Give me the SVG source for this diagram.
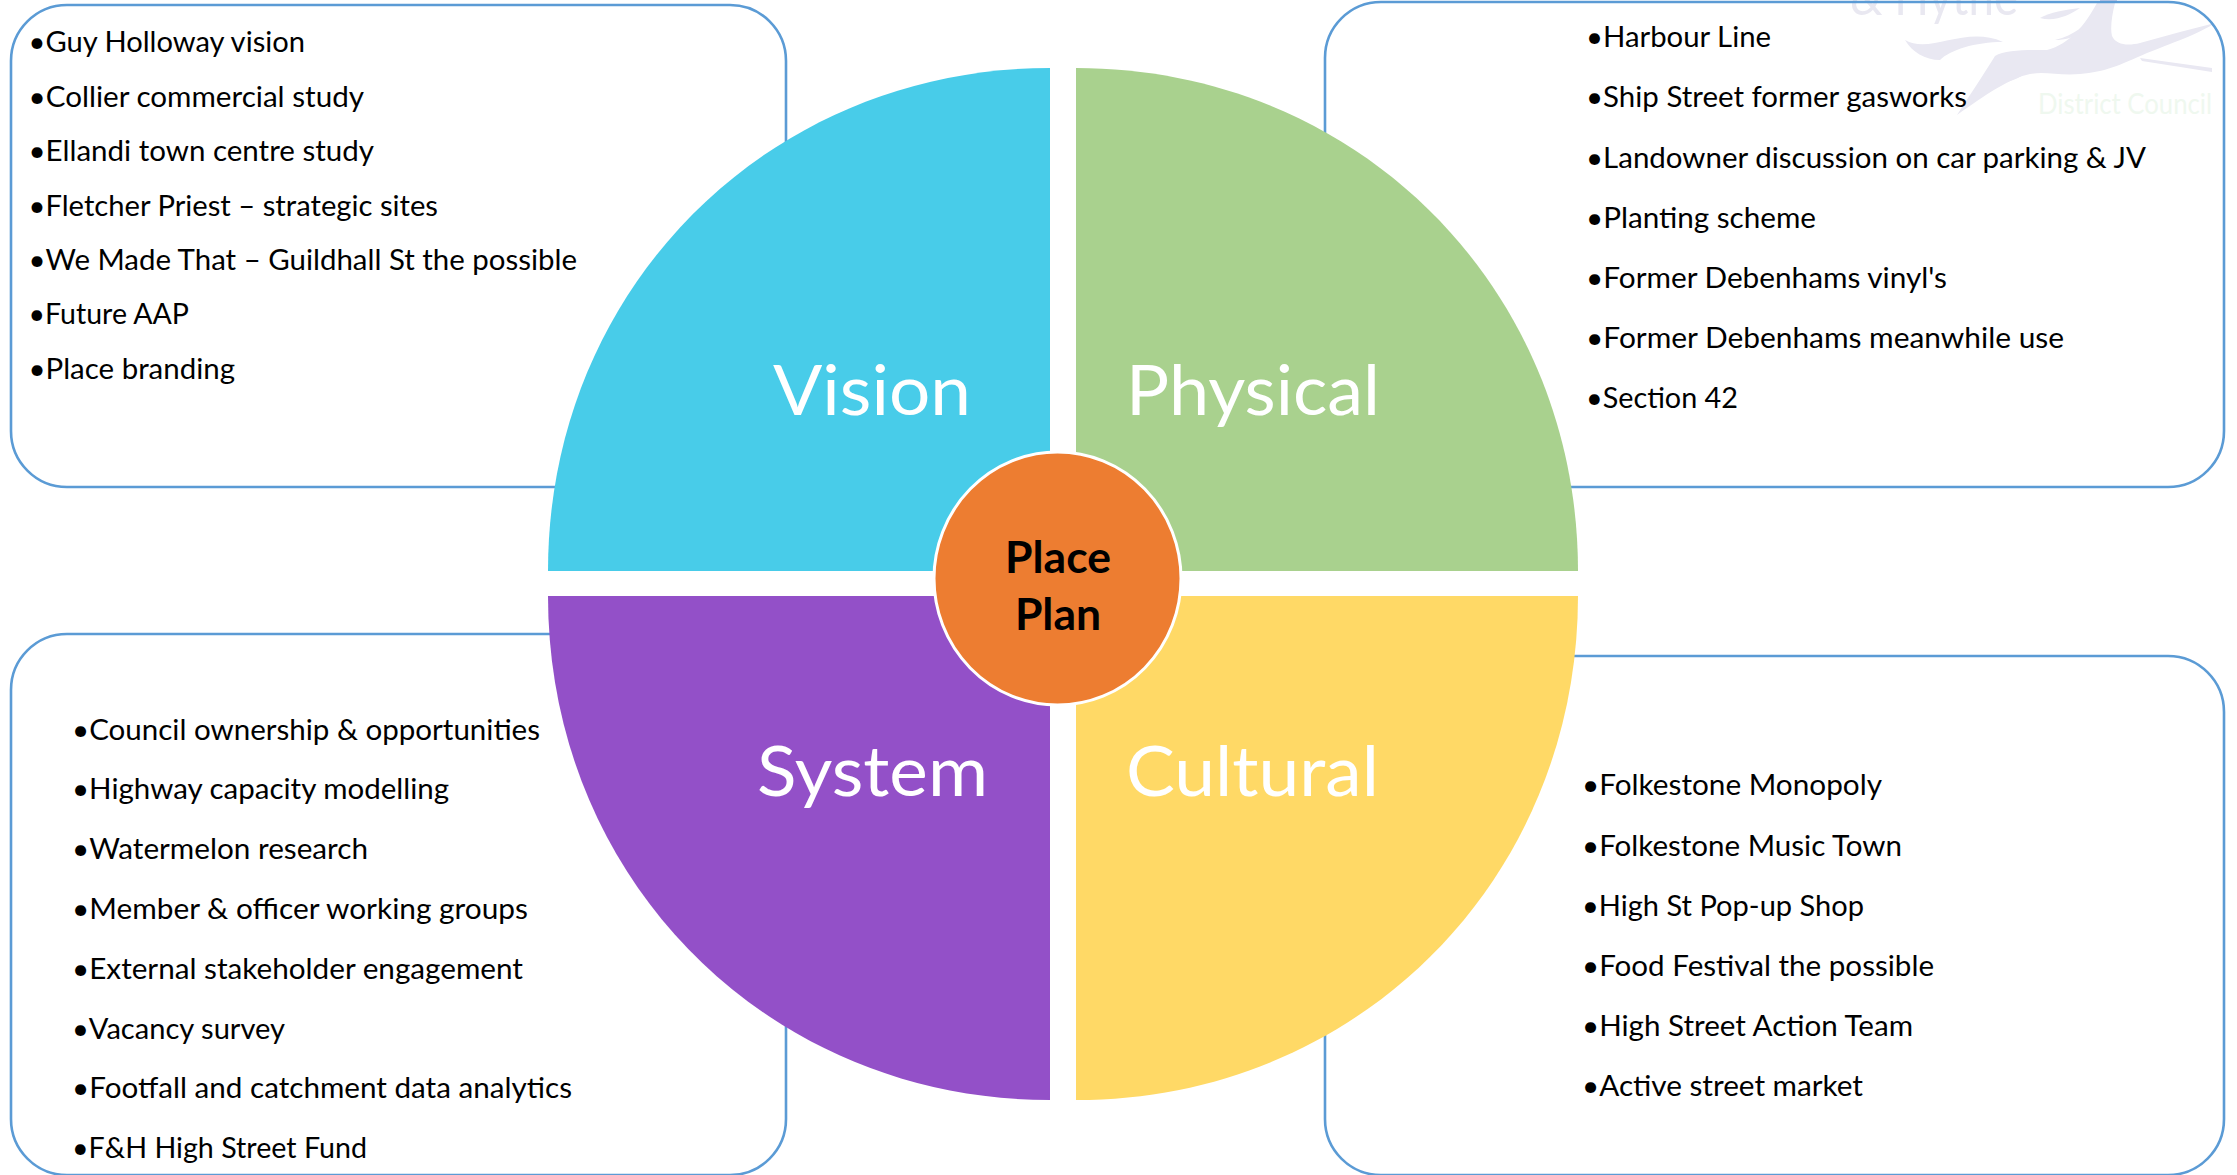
<svg xmlns="http://www.w3.org/2000/svg" width="2237" height="1175" viewBox="0 0 2237 1175">
<style>
text{font-family:"Lato","Liberation Sans",sans-serif}
.box{fill:none;stroke:#5B9BD5;stroke-width:2.6}
.li{font-size:29px;fill:#000}
.big{font-size:70px;fill:#fff;font-weight:400}
.ctr{font-size:44.5px;font-weight:700;fill:#000}
.pale{fill:#E9E8F2}
</style>
<rect width="2237" height="1175" fill="#fff"/>
<g id="logo">
<text x="1850" y="15" font-size="52" fill="#E9E8F1" textLength="168" lengthAdjust="spacingAndGlyphs">&amp; Hythe</text>
<path class="pale" d="M2097 3L2115 3C2112 15 2110 28 2112 36C2116 45 2128 46 2140 43L2180 32L2215 23C2200 33 2180 40 2147 53C2120 65 2105 72 2080 74C2060 76 2045 71 2030 74C2010 78 1985 95 1957 115C1972 92 1985 72 1995 56C2005 50 2025 50 2047 50C2070 44 2085 25 2097 3Z"/>
<path class="pale" d="M1905 40C1930 55 1965 25 2003 42C1975 42 1950 50 1940 60C1925 60 1912 52 1905 40Z"/>
<path class="pale" d="M2040 18C2050 12 2065 10 2080 8C2070 15 2055 22 2040 18Z"/>
<path class="pale" d="M2055 40C2075 35 2085 25 2095 15C2090 30 2075 40 2055 40Z"/>
<path class="pale" d="M1985 80C2005 78 2020 74 2027 72C2015 82 2000 85 1985 80Z"/>
<path class="pale" d="M2140 58L2212 68L2212 72L2142 61Z"/>
<rect x="2100" y="0" width="17" height="3" fill="#C9CBE6"/>
<text x="2038" y="114" font-size="28" fill="#EFF8EF" textLength="174" lengthAdjust="spacingAndGlyphs">District Council</text>
</g>
<g id="box-vision">
<rect class="box" x="11" y="5" width="775" height="482" rx="56"/>
<text class="li" x="28.5" y="52" textLength="276.5" lengthAdjust="spacingAndGlyphs">•Guy Holloway vision</text>
<text class="li" x="28.5" y="107" textLength="335.5" lengthAdjust="spacingAndGlyphs">•Collier commercial study</text>
<text class="li" x="28.5" y="161" textLength="345.5" lengthAdjust="spacingAndGlyphs">•Ellandi town centre study</text>
<text class="li" x="28.5" y="216" textLength="409.5" lengthAdjust="spacingAndGlyphs">•Fletcher Priest – strategic sites</text>
<text class="li" x="28.5" y="270" textLength="548.5" lengthAdjust="spacingAndGlyphs">•We Made That – Guildhall St the possible</text>
<text class="li" x="28.5" y="324" textLength="160.5" lengthAdjust="spacingAndGlyphs">•Future AAP</text>
<text class="li" x="28.5" y="379" textLength="206.5" lengthAdjust="spacingAndGlyphs">•Place branding</text>
</g>
<g id="box-physical">
<rect class="box" x="1325" y="2" width="899" height="485" rx="56"/>
<text class="li" x="1586" y="47" textLength="185" lengthAdjust="spacingAndGlyphs">•Harbour Line</text>
<text class="li" x="1586" y="107" textLength="381" lengthAdjust="spacingAndGlyphs">•Ship Street former gasworks</text>
<text class="li" x="1586" y="168" textLength="560" lengthAdjust="spacingAndGlyphs">•Landowner discussion on car parking &amp; JV</text>
<text class="li" x="1586" y="228" textLength="230" lengthAdjust="spacingAndGlyphs">•Planting scheme</text>
<text class="li" x="1586" y="288" textLength="361" lengthAdjust="spacingAndGlyphs">•Former Debenhams vinyl's</text>
<text class="li" x="1586" y="348" textLength="478" lengthAdjust="spacingAndGlyphs">•Former Debenhams meanwhile use</text>
<text class="li" x="1586" y="408" textLength="152" lengthAdjust="spacingAndGlyphs">•Section 42</text>
</g>
<g id="box-system">
<rect class="box" x="11" y="634" width="775" height="541" rx="56"/>
<text class="li" x="72" y="740.4" textLength="468" lengthAdjust="spacingAndGlyphs">•Council ownership &amp; opportunities</text>
<text class="li" x="72" y="799.4" textLength="377" lengthAdjust="spacingAndGlyphs">•Highway capacity modelling</text>
<text class="li" x="72" y="859.4" textLength="296" lengthAdjust="spacingAndGlyphs">•Watermelon research</text>
<text class="li" x="72" y="919.4" textLength="456" lengthAdjust="spacingAndGlyphs">•Member &amp; officer working groups</text>
<text class="li" x="72" y="979.4" textLength="451" lengthAdjust="spacingAndGlyphs">•External stakeholder engagement</text>
<text class="li" x="72" y="1039" textLength="213" lengthAdjust="spacingAndGlyphs">•Vacancy survey</text>
<text class="li" x="72" y="1098.4" textLength="500" lengthAdjust="spacingAndGlyphs">•Footfall and catchment data analytics</text>
<text class="li" x="72" y="1158.4" textLength="295" lengthAdjust="spacingAndGlyphs">•F&amp;H High Street Fund</text>
</g>
<g id="box-cultural">
<rect class="box" x="1325" y="656" width="899" height="519" rx="56"/>
<text class="li" x="1582" y="795" textLength="300" lengthAdjust="spacingAndGlyphs">•Folkestone Monopoly</text>
<text class="li" x="1582" y="856" textLength="320" lengthAdjust="spacingAndGlyphs">•Folkestone Music Town</text>
<text class="li" x="1582" y="916" textLength="282" lengthAdjust="spacingAndGlyphs">•High St Pop-up Shop</text>
<text class="li" x="1582" y="976" textLength="352" lengthAdjust="spacingAndGlyphs">•Food Festival the possible</text>
<text class="li" x="1582" y="1036" textLength="331" lengthAdjust="spacingAndGlyphs">•High Street Action Team</text>
<text class="li" x="1582" y="1096" textLength="281" lengthAdjust="spacingAndGlyphs">•Active street market</text>
</g>
<g id="vision">
<path d="M1050 571H548C548 289 768 68 1050 68Z" fill="#48CCE9"/>
<text class="big" x="773" y="415" textLength="198" lengthAdjust="spacingAndGlyphs">Vision</text>
</g>
<g id="physical">
<path d="M1076 571H1578C1578 289 1358 68 1076 68Z" fill="#A9D18E"/>
<text class="big" x="1126" y="415" textLength="254" lengthAdjust="spacingAndGlyphs">Physical</text>
</g>
<g id="system">
<path d="M1050 596H548C548 879 768 1100 1050 1100Z" fill="#9350C8"/>
<text class="big" x="757" y="796" textLength="231" lengthAdjust="spacingAndGlyphs">System</text>
</g>
<g id="cultural">
<path d="M1076 596H1578C1578 879 1358 1100 1076 1100Z" fill="#FFD966"/>
<text class="big" x="1126" y="796" textLength="253" lengthAdjust="spacingAndGlyphs">Cultural</text>
</g>
<g id="place-plan">
<ellipse cx="1057.5" cy="578.5" rx="123.5" ry="126.5" fill="#ED7D31" stroke="#fff" stroke-width="3"/>
<text class="ctr" x="1058" y="573" text-anchor="middle">Place</text>
<text class="ctr" x="1058" y="630" text-anchor="middle">Plan</text>
</g>
</svg>
